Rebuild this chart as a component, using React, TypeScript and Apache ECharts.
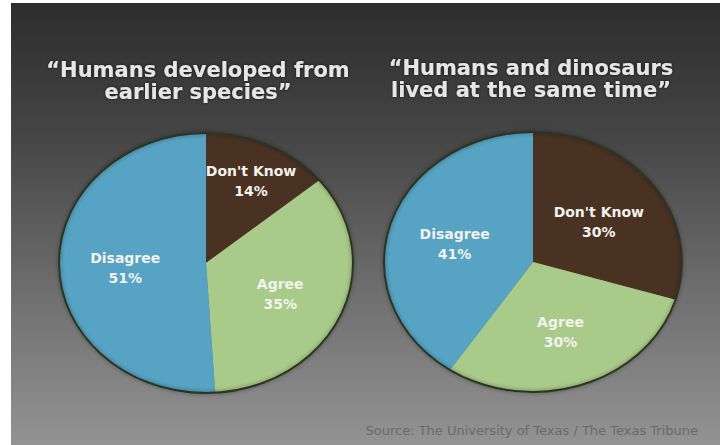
import React, { useEffect, useRef } from "react";
import * as echarts from "echarts";

// ---- data ----
const leftTitle = "\u201cHumans developed from\nearlier species\u201d";
const rightTitle = "\u201cHumans and dinosaurs\nlived at the same time\u201d";
const sourceText = "Source: The University of Texas / The Texas Tribune";

const categories = ["Don't Know", "Agree", "Disagree"];
const leftValues = [14, 35, 51];
const rightValues = [30, 30, 41];

// ---- styles ----
const sliceColors = ["#4a3223", "#a9cb89", "#56a3c3"];

type PieLayout = { cx: number; cy: number; rx: number; ry: number };
const leftLayout: PieLayout = { cx: 206, cy: 263, rx: 147, ry: 130 };
const rightLayout: PieLayout = { cx: 533, cy: 262, rx: 149, ry: 130 };

function makeRenderItem(values: number[], layout: PieLayout) {
  const total = values.reduce((a, b) => a + b, 0);
  return (params: any, api: any) => {
    const idx = params.dataIndex;
    let cum = 0;
    for (let i = 0; i < idx; i++) cum += values[i];
    const v = api.value(0);
    const start = -Math.PI / 2 + (cum / total) * Math.PI * 2;
    const end = -Math.PI / 2 + ((cum + v) / total) * Math.PI * 2;
    const mid = (start + end) / 2;
    const frac = v / total;
    const lr = frac < 0.2 ? 0.72 : 0.55;
    const lx = layout.cx + layout.rx * lr * Math.cos(mid);
    const ly = layout.cy + 3 + layout.ry * lr * Math.sin(mid);
    const children: any[] = [
      {
        type: "sector",
        x: layout.cx,
        y: layout.cy,
        scaleX: layout.rx / layout.ry,
        shape: { cx: 0, cy: 0, r0: 0, r: layout.ry, startAngle: start, endAngle: end, clockwise: true },
        style: { fill: sliceColors[idx] },
        z2: 1,
      },
      {
        type: "text",
        x: lx,
        y: ly,
        z2: 10,
        style: {
          text: categories[idx] + "\n" + v + "%",
          fill: "#f2f2ee",
          font: "bold 14px 'DejaVu Sans'",
          align: "center",
          verticalAlign: "middle",
          lineHeight: 20,
        },
      },
    ];
    if (idx === 0) {
      children.push({
        type: "ellipse",
        shape: { cx: layout.cx, cy: layout.cy, rx: layout.rx, ry: layout.ry },
        z2: 5,
        style: {
          fill: null,
          stroke: "#2a3520",
          lineWidth: 2,
          shadowColor: "rgba(0,0,0,0.45)",
          shadowBlur: 4,
        },
      });
    }
    return { type: "group", children };
  };
}

export default function App() {
  const ref = useRef<HTMLDivElement>(null);
  useEffect(() => {
    if (!ref.current) return;
    const chart = echarts.init(ref.current, undefined, { renderer: "svg" });
    const titleStyle = {
      fill: "#e6e6e6",
      font: "bold 21px 'DejaVu Sans'",
      align: "center",
      verticalAlign: "middle",
      lineHeight: 22,
      textShadowColor: "rgba(0,0,0,0.7)",
      textShadowBlur: 3,
    };
    chart.setOption({
      animation: false,
      backgroundColor: "#ffffff",
      graphic: [
        {
          type: "rect",
          z: -10,
          shape: { x: 11, y: 3, width: 709, height: 442 },
          style: {
            fill: new echarts.graphic.LinearGradient(0, 0, 0, 1, [
              { offset: 0, color: "#2d2d2d" },
              { offset: 0.3, color: "#454545" },
              { offset: 0.65, color: "#6e6e6e" },
              { offset: 1, color: "#939393" },
            ]),
          },
        },
        { type: "text", x: 198, y: 81, z: 10, style: { ...titleStyle, text: leftTitle } },
        { type: "text", x: 531, y: 79, z: 10, style: { ...titleStyle, text: rightTitle } },
        {
          type: "text",
          x: 698,
          y: 430,
          z: 10,
          style: {
            text: sourceText,
            fill: "#6a6a6a",
            font: "13px 'DejaVu Sans'",
            align: "right",
            verticalAlign: "middle",
          },
        },
      ],
      series: [
        {
          type: "custom",
          coordinateSystem: "none",
          renderItem: makeRenderItem(leftValues, leftLayout),
          data: leftValues.map((v) => [v]),
        },
        {
          type: "custom",
          coordinateSystem: "none",
          renderItem: makeRenderItem(rightValues, rightLayout),
          data: rightValues.map((v) => [v]),
        },
      ],
    });
    return () => chart.dispose();
  }, []);
  return (
    <div
      ref={ref}
      style={{ position: "fixed", left: 0, top: 0, width: 720, height: 445 }}
    />
  );
}
